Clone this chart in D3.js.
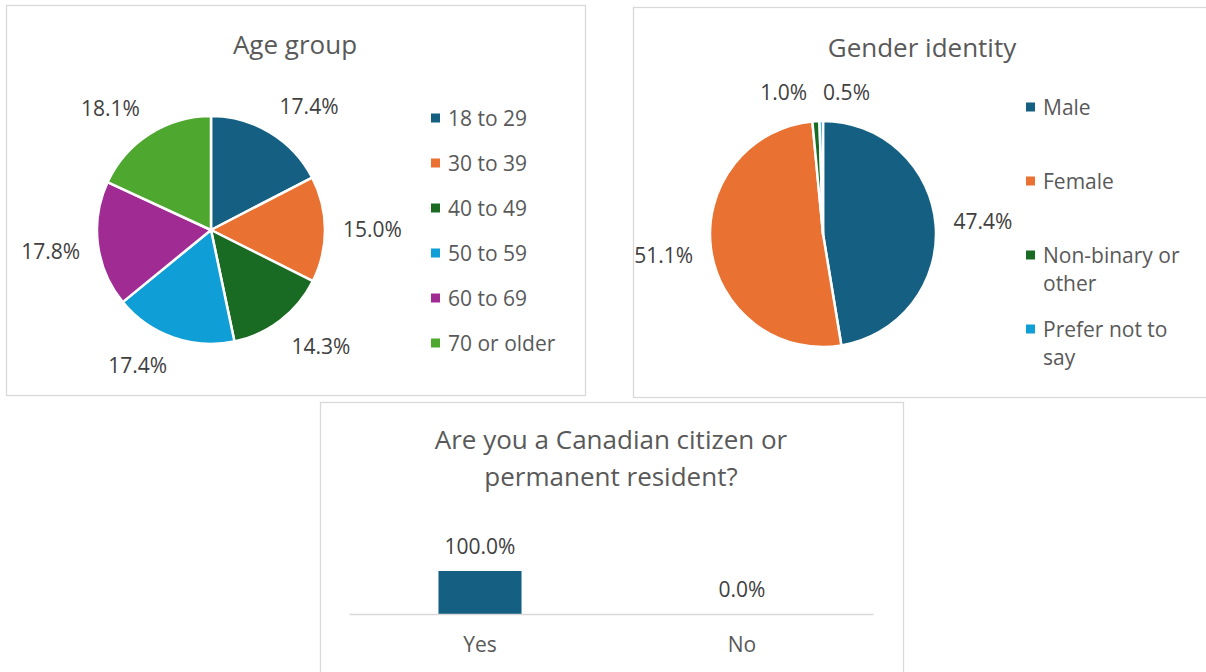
<!DOCTYPE html>
<html>
<head>
<meta charset="utf-8">
<script src="https://cdn.jsdelivr.net/npm/d3@7"></script>
<style>
  body { margin: 0; background: #fff; }
  text { font-family: "Open Sans", "Noto Sans", sans-serif; }
</style>
</head>
<body>
<script>
// data
const ageGroups = ["18 to 29", "30 to 39", "40 to 49", "50 to 59", "60 to 69", "70 or older"];
const ageShares = [17.4, 15.0, 14.3, 17.4, 17.8, 18.1];
const genders = ["Male", "Female", "Non-binary or other", "Prefer not to say"];
const genderShares = [47.4, 51.1, 1.0, 0.5];
const citizenCats = ["Yes", "No"];
const citizenShares = [100.0, 0.0];
const palette = ["#156082", "#e97132", "#196b24", "#0f9ed5", "#a02b93", "#4ea72e"];

const W = 1206, H = 672;
const LABEL = 21, TITLE = 26;
const svg = d3.select("body").append("svg")
    .attr("width", W).attr("height", H);

svg.append("rect").attr("width", W).attr("height", H).attr("fill", "#fff");

// panel frames
const panels = [
    {x: 6.5, y: 5.5, w: 579, h: 390},
    {x: 633.5, y: 7.5, w: 590, h: 390},
    {x: 320.5, y: 402.5, w: 583, h: 290}
];
panels.forEach(p => {
    svg.append("rect").attr("x", p.x).attr("y", p.y).attr("width", p.w).attr("height", p.h)
        .attr("fill", "#fff").attr("stroke", "#d9d9d9").attr("stroke-width", 1.3);
});

function fmt(v) { return v.toFixed(1) + "%"; }

function drawPie(g, cats, vals, r) {
    const pie = d3.pie().sort(null).value(d => d)(vals);
    const arc = d3.arc().innerRadius(0).outerRadius(r);
    g.selectAll("path.slice").data(pie).join("path")
        .attr("class", "slice")
        .attr("d", arc)
        .attr("fill", (d, i) => palette[i])
        .attr("stroke", "#fff").attr("stroke-width", 2.5).attr("stroke-linejoin", "round");

    // outside-end labels: nearest corner of the label box sits just outside the rim
    const gap = 18;
    const labels = pie.map((d, i) => {
        const t = g.append("text").text(fmt(vals[i]))
            .attr("font-size", LABEL).attr("fill", "#404040")
            .attr("text-anchor", "middle").attr("dominant-baseline", "central");
        const w = t.node().getComputedTextLength(), h = 22;
        const a = (d.startAngle + d.endAngle) / 2;
        const s = Math.sin(a), c = -Math.cos(a);
        const k = v => Math.max(-1, Math.min(1, v * 3));
        return {t: t, w: w, h: h,
            x: (r + gap) * s + k(s) * w / 2,
            y: (r + gap) * c + k(c) * h / 2};
    });
    // push overlapping labels apart sideways
    for (let it = 0; it < 20; it++) {
        for (let i = 0; i < labels.length; i++) {
            for (let j = i + 1; j < labels.length; j++) {
                const A = labels[i], B = labels[j];
                const ox = (A.w + B.w) / 2 + 16 - Math.abs(A.x - B.x);
                const oy = (A.h + B.h) / 2 - Math.abs(A.y - B.y);
                if (ox > 0 && oy > 0) {
                    const dir = A.x < B.x ? -1 : 1;
                    A.x += dir * ox / 2;
                    B.x -= dir * ox / 2;
                }
            }
        }
    }
    labels.forEach(l => l.t.attr("x", l.x).attr("y", l.y));
}

function wrap(text, maxW, size) {
    const words = text.split(" ");
    const probe = svg.append("text").attr("font-size", size);
    const lines = [];
    let line = [];
    words.forEach(w => {
        const test = line.concat([w]).join(" ");
        probe.text(test);
        if (probe.node().getComputedTextLength() > maxW && line.length) {
            lines.push(line.join(" "));
            line = [w];
        } else {
            line.push(w);
        }
    });
    lines.push(line.join(" "));
    probe.remove();
    return lines;
}

function drawLegend(g, cats, step, maxW) {
    cats.forEach((c, i) => {
        const row = g.append("g").attr("transform", "translate(0," + (i * step) + ")");
        row.append("rect").attr("x", -5).attr("y", -4.5).attr("width", 9).attr("height", 9)
            .attr("fill", palette[i]);
        const lines = wrap(c, maxW, LABEL);
        const t = row.append("text").attr("x", 12).attr("font-size", LABEL).attr("fill", "#595959")
            .attr("dominant-baseline", "central");
        lines.forEach((ln, j) => {
            t.append("tspan").attr("x", 12).attr("y", j * 28).text(ln);
        });
    });
}

function title(lines, cx, y0, lh) {
    lines.forEach((ln, i) => {
        svg.append("text").attr("x", cx).attr("y", y0 + i * lh)
            .attr("text-anchor", "middle").attr("dominant-baseline", "central")
            .attr("font-size", TITLE).attr("fill", "#595959").text(ln);
    });
}

// Age group
title(["Age group"], 295, 44, 0);
drawPie(svg.append("g").attr("transform", "translate(211,230)"), ageGroups, ageShares, 114);
drawLegend(svg.append("g").attr("transform", "translate(436,118)"), ageGroups, 45, 200);

// Gender identity
title(["Gender identity"], 922, 47, 0);
drawPie(svg.append("g").attr("transform", "translate(823,234)"), genders, genderShares, 113);
drawLegend(svg.append("g").attr("transform", "translate(1031,107)"), genders, 74, 150);

// Citizenship bar chart
title(["Are you a Canadian citizen or", "permanent resident?"], 611, 439, 37);

const x = d3.scaleBand().domain(citizenCats).range([349, 873])
    .paddingInner(0.683).paddingOuter(0.3415);
const xCat = d3.scaleBand().domain(citizenCats).range([349, 873]);
const y = d3.scaleLinear().domain([0, 100]).range([614, 571]);

svg.append("g").selectAll("rect").data(citizenShares).join("rect")
    .attr("x", (d, i) => x(citizenCats[i]))
    .attr("y", d => y(d))
    .attr("width", x.bandwidth())
    .attr("height", d => y(0) - y(d))
    .attr("fill", palette[0]);

svg.append("g").selectAll("text").data(citizenShares).join("text")
    .attr("x", (d, i) => xCat(citizenCats[i]) + xCat.bandwidth() / 2)
    .attr("y", d => y(d) - 25)
    .attr("text-anchor", "middle").attr("dominant-baseline", "central")
    .attr("font-size", LABEL).attr("fill", "#404040")
    .text(d => fmt(d));

const axis = svg.append("g").attr("transform", "translate(0,614)")
    .call(d3.axisBottom(xCat).tickSize(0).tickPadding(23));
axis.select(".domain").attr("stroke", "#d9d9d9").attr("stroke-width", 1.5);
axis.selectAll("text").attr("font-size", LABEL).attr("fill", "#595959")
    .attr("font-family", "'Open Sans', sans-serif");
</script>
</body>
</html>
